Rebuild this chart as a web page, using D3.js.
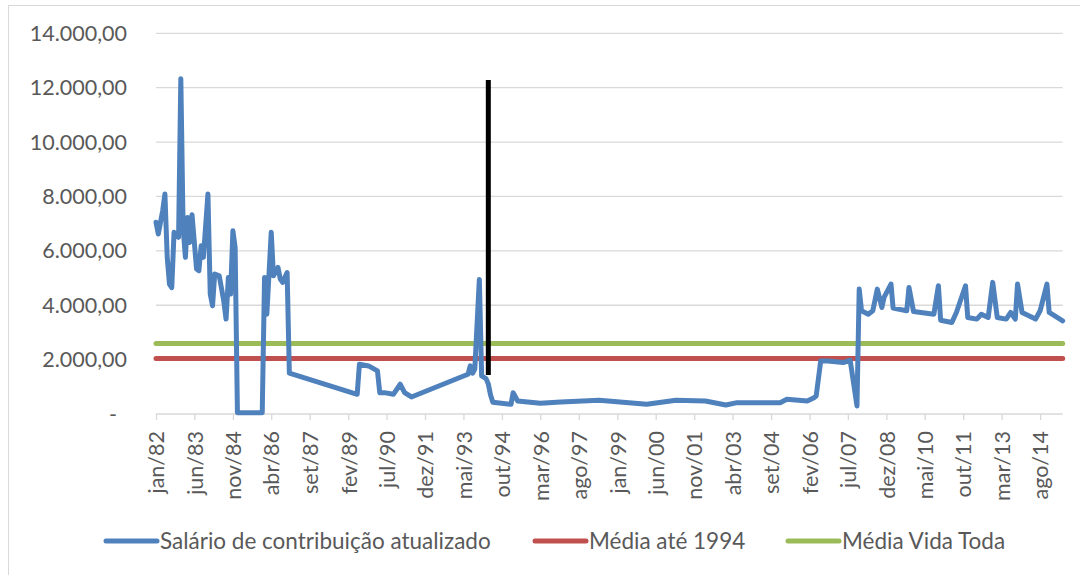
<!DOCTYPE html>
<html>
<head>
<meta charset="utf-8">
<script src="https://cdn.jsdelivr.net/npm/d3@7"></script>
<style>
  body { margin: 0; background: #fff; }
  svg { display: block; font-family: Lato, "Open Sans", sans-serif; }
</style>
</head>
<body>
<svg id="chart" width="1080" height="575"></svg>
<script>
// Salário de contribuição atualizado (vértices)
const meses = [
  "1982-01","1982-02","1982-04","1982-05","1982-06","1982-07","1982-08","1982-09","1982-11","1982-12",
  "1983-01","1983-02","1983-03","1983-04","1983-05","1983-07","1983-08","1983-09","1983-10","1983-12",
  "1984-01","1984-02","1984-03","1984-05","1984-07","1984-08","1984-09","1984-10","1984-11","1984-12",
  "1985-01","1985-12","1986-01","1986-02","1986-04","1986-05","1986-07","1986-08","1986-09","1986-11",
  "1986-12","1989-06","1989-07","1989-11","1990-03","1990-04","1990-06","1990-10","1991-01","1991-03",
  "1991-06","1993-07","1993-08","1993-09","1993-10","1993-12","1994-01","1994-03","1994-04","1994-05",
  "1994-06","1995-02","1995-03","1995-05","1996-03","1996-12","1998-05","2000-02","2001-03","2002-04",
  "2003-01","2003-06","2005-01","2005-04","2006-01","2006-04","2006-05","2006-07","2006-10","2007-05",
  "2007-08","2007-11","2007-12","2008-01","2008-04","2008-06","2008-08","2008-10","2008-11","2009-02",
  "2009-03","2009-09","2009-10","2009-12","2010-09","2010-11","2010-12","2011-05","2011-07","2011-11",
  "2011-12","2012-04","2012-06","2012-09","2012-11","2013-01","2013-05","2013-07","2013-09","2013-10",
  "2013-12","2014-06","2014-08","2014-11","2014-12","2015-06"
];
const salarios = [
  7050, 6620, 7480, 8090, 5760, 4780, 4650, 6680, 6500, 12330,
  6860, 5760, 7230, 6310, 7330, 5330, 5270, 6190, 5760, 8090,
  4410, 3980, 5150, 5080, 4160, 3490, 5020, 4410, 6740, 6130,
  50, 50, 5020, 3670, 6680, 5080, 5390, 4960, 4840, 5200,
  1500, 725, 1830, 1768, 1585, 785, 785, 725, 1094, 785,
  626, 1460, 1770, 1500, 1650, 4950, 1400, 1300, 1100, 700,
  430, 357, 785, 480, 393, 440, 505, 357, 505, 480,
  332, 417, 417, 540, 480, 600, 663, 1953, 1953, 1890,
  1978, 295, 4594, 3795, 3670, 3795, 4594, 3916, 4300, 4778,
  3894, 3795, 4655, 3770, 3670, 4716, 3450, 3365, 3733, 4716,
  3550, 3490, 3670, 3550, 4840, 3550, 3490, 3733, 3490, 4778,
  3733, 3490, 3795, 4778, 3733, 3427
];
const mediaAte1994 = 2040;
const mediaVidaToda = 2590;
// marco vertical (linha preta)
const marcoMes = "1994-04";
const marcoTopo = 12280;
const marcoBase = 1430;

const periodo = ["1982-01", "2015-06"];
const rotulosX = ["jan/82","jun/83","nov/84","abr/86","set/87","fev/89","jul/90","dez/91","mai/93",
  "out/94","mar/96","ago/97","jan/99","jun/00","nov/01","abr/03","set/04","fev/06","jul/07",
  "dez/08","mai/10","out/11","mar/13","ago/14"];
const ticksY = [0, 2000, 4000, 6000, 8000, 10000, 12000, 14000];
const series = ["Salário de contribuição atualizado", "Média até 1994", "Média Vida Toda"];
const cores = ["#4f81bd", "#c0504d", "#9bbb59"];

const parseMes = d3.timeParse("%Y-%m");
const nomesMes = ["jan","fev","mar","abr","mai","jun","jul","ago","set","out","nov","dez"];
function parseRotulo(s) {
  const [m, a] = s.split("/");
  const ano = +a < 50 ? 2000 + +a : 1900 + +a;
  return new Date(ano, nomesMes.indexOf(m), 1);
}

const ptBR = d3.formatLocale({ decimal: ",", thousands: ".", grouping: [3], currency: ["R$", ""] });
const fmt = ptBR.format(",.2f");

const margin = { left: 156, right: 1062.7, top: 33.3, bottom: 414 };
const svg = d3.select("#chart");

// moldura
svg.append("rect")
  .attr("x", 8.5).attr("y", 5.5).attr("width", 1100).attr("height", 600)
  .attr("fill", "#fff").attr("stroke", "#d9d9d9");

const x = d3.scaleTime()
  .domain(periodo.map(parseMes))
  .range([margin.left, margin.right]);
const y = d3.scaleLinear()
  .domain([0, 14000])
  .range([margin.bottom, margin.top]);

// grade
svg.append("g")
  .selectAll("line")
  .data(ticksY.filter(d => d > 0))
  .join("line")
  .attr("x1", margin.left).attr("x2", margin.right)
  .attr("y1", d => y(d)).attr("y2", d => y(d))
  .attr("stroke", "#d9d9d9").attr("stroke-width", 1.3);

// eixo Y
svg.append("g")
  .selectAll("text")
  .data(ticksY)
  .join("text")
  .attr("x", d => d === 0 ? 117 : 127)
  .attr("y", d => y(d))
  .attr("dy", "0.35em")
  .attr("text-anchor", "end")
  .attr("fill", "#595959")
  .style("font-size", "21.5px")
  .text(d => d === 0 ? "-" : fmt(d));

// eixo X
const xAxis = d3.axisBottom(x)
  .tickValues(rotulosX.map(parseRotulo))
  .tickSize(6)
  .tickFormat((d, i) => rotulosX[i]);

const gx = svg.append("g")
  .attr("transform", `translate(0,${margin.bottom})`)
  .call(xAxis);
gx.select(".domain").attr("stroke", "#d9d9d9").attr("stroke-width", 1.3)
  .attr("d", `M${margin.left},0H${margin.right}`);
gx.selectAll(".tick line").attr("stroke", "#d9d9d9").attr("stroke-width", 1.3);
gx.selectAll(".tick text")
  .attr("fill", "#595959")
  .style("font-size", "21.5px")
  .style("font-family", "Lato, sans-serif")
  .attr("text-anchor", "end")
  .attr("transform", "rotate(-90)")
  .attr("x", -17)
  .attr("y", 0)
  .attr("dy", "0.36em");

// médias
[mediaAte1994, mediaVidaToda].forEach((v, i) => {
  svg.append("line")
    .attr("x1", x(parseMes(periodo[0]))).attr("x2", x(parseMes(periodo[1])))
    .attr("y1", y(v)).attr("y2", y(v))
    .attr("stroke", cores[i + 1]).attr("stroke-width", 5)
    .attr("stroke-linecap", "round");
});

// série principal
const dados = meses.map((m, i) => ({ data: parseMes(m), valor: salarios[i] }));
const linha = d3.line()
  .x(d => x(d.data))
  .y(d => y(d.valor));
svg.append("path")
  .datum(dados)
  .attr("fill", "none")
  .attr("stroke", cores[0])
  .attr("stroke-width", 5)
  .attr("stroke-linejoin", "round")
  .attr("stroke-linecap", "round")
  .attr("d", linha);

// marco 1994
svg.append("line")
  .attr("x1", x(parseMes(marcoMes))).attr("x2", x(parseMes(marcoMes)))
  .attr("y1", y(marcoTopo)).attr("y2", y(marcoBase))
  .attr("stroke", "#000").attr("stroke-width", 5);

// legenda
const posLegenda = [104, 533, 786];
const leg = svg.append("g").selectAll("g")
  .data(series)
  .join("g")
  .attr("transform", (d, i) => `translate(${posLegenda[i]},541)`);
leg.append("line")
  .attr("x1", 2).attr("x2", 53)
  .attr("stroke", (d, i) => cores[i])
  .attr("stroke-width", 5)
  .attr("stroke-linecap", "round");
leg.append("text")
  .attr("x", 56)
  .attr("dy", "0.35em")
  .attr("fill", "#595959")
  .style("font-size", "22.5px")
  .text(d => d);
</script>
</body>
</html>
